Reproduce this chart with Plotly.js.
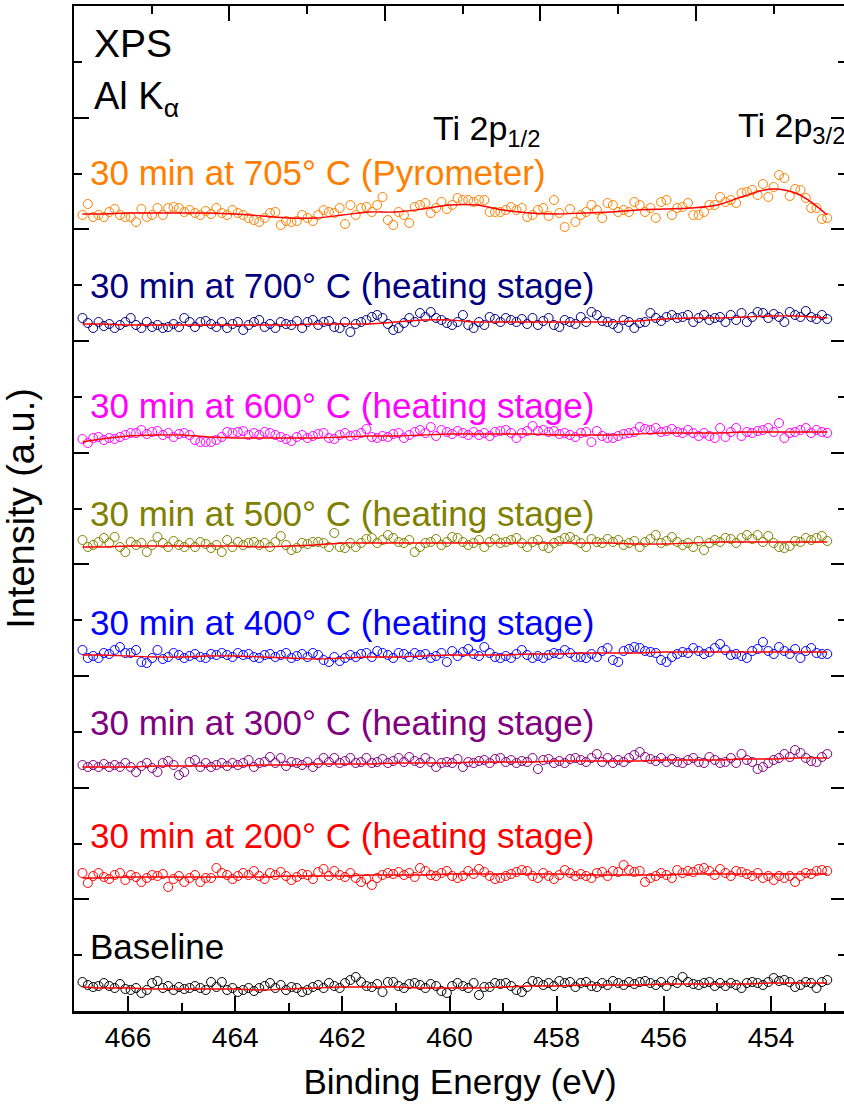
<!DOCTYPE html>
<html>
<head>
<meta charset="utf-8">
<script src="https://cdn.plot.ly/plotly-3.0.1.min.js"></script>
<style>
html,body{margin:0;padding:0;background:#fff;overflow:hidden;}
#chart{width:848px;height:1110px;}
</style>
</head>
<body>
<div id="chart"></div>
<script>
// Binding-energy grid of the spectra (eV): first point and step
const energyStart = 466.85;
const energyStep = -0.1;

// Measured spectra (a.u., already vertically offset for stacking)
const s705 = [796,807,794,796,794,799,802,796,794,794,789,802,794,796,803,796,803,804,803,799,801,798,796,800,797,803,798,796,801,798,796,793,791,789,793,798,799,786,790,789,790,796,793,790,796,801,799,798,803,787,806,796,803,804,799,806,814,791,786,799,
796,788,804,806,808,798,803,809,802,806,813,811,811,809,811,811,799,799,799,801,804,801,803,794,796,801,803,795,811,798,784,802,789,796,799,806,801,793,808,806,799,801,799,809,806,799,803,793,809,811,796,803,804,808,796,796,799,806,806,814,809,811,808,818,819,821,816,827,814,824,836,833,815,822,821,813,803,803,792,793];
const s700 = [693,688,683,689,685,687,683,686,689,693,686,683,689,684,686,683,684,687,684,693,689,684,689,690,687,684,689,683,687,689,681,686,689,691,684,687,683,689,687,686,690,683,689,691,686,689,690,684,683,689,679,687,689,691,694,696,693,687,681,683,688,693,689,698,694,699,693,691,688,686,689,696,686,683,689,686,694,692,689,693,691,689,692,687,693,686,690,693,686,684,691,689,687,694,689,699,696,690,689,687,683,691,689,683,688,689,698,693,690,694,696,693,694,696,689,693,696,691,693,694,689,696,691,698,689,694,699,698,693,697,694,689,699,696,694,700,694,692,696,692];
const s600 = [572,568,573,574,571,573,572,574,576,578,578,581,577,579,580,576,578,574,577,578,576,571,569,569,569,571,574,579,578,579,580,576,578,576,579,578,576,574,572,570,574,576,573,575,577,578,573,572,576,578,575,576,578,582,574,573,575,574,577,578,573,576,579,581,578,584,575,581,579,577,580,578,576,579,576,578,575,579,580,581,578,573,578,580,585,580,581,579,580,577,578,576,574,578,579,569,580,575,573,573,575,577,578,579,584,582,581,583,579,580,582,579,578,581,578,575,578,575,573,583,574,579,583,575,579,578,580,581,583,579,588,573,578,579,581,583,578,581,579,578];
const s500 = [471,464,466,469,473,468,474,464,459,469,466,468,459,466,474,468,464,470,466,464,468,464,469,467,463,466,459,471,464,469,466,468,469,466,468,464,469,475,466,461,463,468,467,469,469,468,464,478,464,463,468,464,468,472,473,468,471,476,473,469,468,471,459,464,468,469,472,466,469,474,473,469,466,468,471,464,469,472,468,469,471,473,468,464,469,471,465,463,468,470,473,474,471,468,464,472,469,468,472,469,471,466,468,470,464,469,472,476,468,470,474,469,466,468,464,470,461,468,471,469,473,472,468,473,476,472,476,469,475,468,464,463,465,470,469,473,471,473,475,470];
const s400 = [361,353,355,353,358,357,361,364,358,358,361,349,348,353,361,352,354,358,356,353,355,357,354,353,357,356,358,356,354,358,356,357,354,353,356,357,354,356,358,353,355,357,354,358,356,351,349,354,350,353,356,354,357,358,354,360,358,356,353,358,357,354,358,356,357,353,355,358,349,360,355,359,362,357,355,364,358,354,353,355,353,357,361,356,353,355,353,356,358,357,361,358,354,354,353,357,354,360,363,351,349,360,362,364,363,360,359,358,351,349,354,357,359,358,363,360,357,359,363,367,361,356,357,355,353,360,362,369,360,357,364,360,357,362,353,360,363,358,357,357];
const s300 = [246,244,246,244,247,244,246,244,248,244,239,245,248,243,239,248,250,246,236,239,249,251,244,248,244,246,248,245,248,246,248,251,244,248,249,254,248,253,245,249,248,246,249,244,248,253,249,253,248,250,253,248,249,253,248,249,252,248,250,253,249,254,250,248,253,249,244,248,249,248,252,244,249,248,250,251,248,252,253,249,251,248,250,249,253,242,251,252,248,250,248,252,253,251,249,253,257,249,253,248,251,249,253,256,259,254,252,250,253,249,252,249,248,251,253,249,248,254,251,248,249,253,248,257,251,249,242,244,248,251,253,257,254,261,258,253,250,249,254,257];
const s200 = [138,128,135,138,134,132,136,138,131,136,134,129,133,136,135,137,124,132,135,129,133,136,129,133,133,143,138,136,132,135,138,136,140,135,132,138,136,139,135,131,134,137,136,132,139,142,135,140,136,134,138,133,129,132,126,133,136,138,137,139,136,138,134,143,140,136,135,138,140,135,133,135,140,137,142,139,135,132,133,135,137,139,141,140,135,133,138,135,132,136,141,138,135,137,135,133,138,139,135,140,139,146,141,139,140,129,133,135,138,136,133,141,138,140,139,142,143,140,136,142,138,135,140,139,137,135,138,133,135,131,135,133,135,129,135,138,137,140,141,140];
const sBase = [29,26,24,25,28,25,23,27,22,21,23,18,21,28,30,23,25,21,24,22,23,25,23,21,29,24,29,21,23,19,21,23,20,23,25,28,23,26,21,24,23,19,21,24,26,23,28,25,23,28,31,34,29,25,24,27,19,29,29,25,23,27,28,26,23,27,25,20,18,25,28,25,23,28,16,24,24,28,27,28,25,21,19,24,30,29,26,28,25,30,28,29,24,28,29,25,24,28,26,30,28,26,29,27,29,30,28,26,29,25,30,28,34,29,27,26,28,29,25,28,25,28,26,23,28,29,28,26,29,33,30,31,29,24,26,29,28,23,29,31];

// Smoothed fit curves, sampled on a coarse energy grid
const fitEnergy = [466.85,466.5,466,465.5,465,464.5,464,463.5,463,462.5,462,461.5,461,460.5,460,459.5,459,458.5,458,457.5,457,456.5,456,455.5,455,454.5,454,453.5,452.95];
const f705 = [797,797,798,798,798,798,797,795,793,793,796,799,799,802,806,806,801,798,797,798,799,801,802,803,806,815,822,817,796];
const f700 = [687,687,686,686,686,686,686,686,686,687,687,687,689,691,691,689,689,689,689,689,689,690,692,693,693,694,695,695,693];
const f600 = [569,572,575,576,576,574,573,573,573,573,574,575,575,576,577,577,577,577,576,576,576,577,578,578,578,579,579,579,579];
const f500 = [464,464,465,465,465,465,465,464,465,466,468,468,468,468,468,468,468,468,468,468,468,467,467,468,469,469,469,469,469];
const f400 = [356,356,355,354,354,355,355,354,353,352,353,354,354,355,356,356,356,357,357,358,358,358,359,359,359,359,359,359,359];
const f300 = [244,244,244,245,245,245,245,246,246,247,247,247,248,248,248,249,249,249,250,250,250,250,251,251,251,252,252,253,253];
const f200 = [133,133,134,134,134,134,134,134,135,135,135,136,136,136,137,137,137,137,137,136,136,136,136,137,137,137,137,137,137];
const fBase = [24,23,23,22,22,22,22,21,22,23,24,24,24,23,23,23,24,25,25,26,26,26,27,27,27,27,28,28,28];

const seriesLabels = ["30 min at 705° C (Pyrometer)","30 min at 700° C (heating stage)","30 min at 600° C (heating stage)","30 min at 500° C (heating stage)","30 min at 400° C (heating stage)","30 min at 300° C (heating stage)","30 min at 200° C (heating stage)","Baseline"];
const seriesColors = ["#ff8000","#000080","#ff00ff","#808000","#0000ff","#800080","#ff0000","#000000"];
const seriesData = [s705,s700,s600,s500,s400,s300,s200,sBase];
const seriesFits = [f705,f700,f600,f500,f400,f300,f200,fBase];
const labelY = [173,286,405,513,623,723,835,946]; // label positions (px from top of figure)

const FONT = "Liberation Sans, Arial, Helvetica, sans-serif";
const plotTop = 6, plotBottom = 1011, plotLeft = 74, plotRight = 846;
const pyToPaper = py => (plotBottom - py) / (plotBottom - plotTop);
const pxToPaper = px => (px - plotLeft) / (plotRight - plotLeft);

const traces = [];
seriesData.forEach((d, i) => {
  traces.push({
    type: 'scatter', mode: 'markers', x0: energyStart, dx: energyStep, y: d,
    marker: {symbol: 'circle-open', size: 9, color: seriesColors[i], line: {width: 1, color: seriesColors[i]}},
    showlegend: false, hoverinfo: 'skip'
  });
});
seriesFits.forEach((f) => {
  traces.push({
    type: 'scatter', mode: 'lines', x: fitEnergy, y: f,
    line: {color: '#ff0000', width: 1.4, shape: 'spline', smoothing: 1},
    showlegend: false, hoverinfo: 'skip'
  });
});
// empty trace to carry the top axis
traces.push({type: 'scatter', x: [], y: [], xaxis: 'x2', yaxis: 'y', showlegend: false});

const annotations = [];
seriesLabels.forEach((t, i) => {
  annotations.push({
    xref: 'paper', yref: 'paper', x: pxToPaper(88), y: pyToPaper(labelY[i]),
    xanchor: 'left', yanchor: 'middle', showarrow: false, text: t,
    font: {family: FONT, size: 35, color: seriesColors[i]}
  });
});
annotations.push({xref:'paper',yref:'paper',x:pxToPaper(92),y:pyToPaper(43),xanchor:'left',yanchor:'middle',showarrow:false,text:'XPS',font:{family:FONT,size:39,color:'#000'}});
annotations.push({xref:'paper',yref:'paper',x:pxToPaper(92),y:pyToPaper(99),xanchor:'left',yanchor:'middle',showarrow:false,text:'Al K<sub>α</sub>',font:{family:FONT,size:38,color:'#000'}});
annotations.push({xref:'paper',yref:'paper',x:pxToPaper(431),y:pyToPaper(130),xanchor:'left',yanchor:'middle',showarrow:false,text:'Ti 2p<sub>1/2</sub>',font:{family:FONT,size:34,color:'#000'}});
annotations.push({xref:'paper',yref:'paper',x:pxToPaper(736),y:pyToPaper(128),xanchor:'left',yanchor:'middle',showarrow:false,text:'Ti 2p<sub>3/2</sub>',font:{family:FONT,size:34,color:'#000'}});

const layout = {
  width: 848, height: 1110,
  margin: {l: plotLeft, r: 848 - plotRight, t: plotTop, b: 1110 - plotBottom},
  paper_bgcolor: '#fff', plot_bgcolor: '#fff',
  font: {family: FONT, color: '#000'},
  showlegend: false,
  xaxis: {
    range: [467.008, 452.6], showgrid: false, zeroline: false,
    showline: true, linewidth: 2.5, linecolor: '#000', mirror: false,
    ticks: 'inside', ticklen: 15, tickwidth: 2, tickcolor: '#000',
    tick0: 0, dtick: 2, tickfont: {family: FONT, size: 28, color: '#000'},
    ticklabelstandoff: 0,
    minor: {dtick: 1, ticks: 'inside', ticklen: 8, tickwidth: 2, tickcolor: '#000', showgrid: false},
    title: {text: 'Binding Energy (eV)', font: {family: FONT, size: 35, color: '#000'}, standoff: 18},
    automargin: false
  },
  xaxis2: {
    overlaying: 'x', side: 'top', anchor: 'y', range: [0, 4.965],
    showgrid: false, zeroline: false, showline: true, linewidth: 2.5, linecolor: '#000',
    ticks: 'inside', ticklen: 15, tickwidth: 2, tickcolor: '#000', tick0: 0, dtick: 1,
    showticklabels: false,
    minor: {dtick: 0.5, ticks: 'inside', ticklen: 8, tickwidth: 2, tickcolor: '#000', showgrid: false}
  },
  yaxis: {
    range: [0, 1005], showgrid: false, zeroline: false,
    showline: true, linewidth: 2.5, linecolor: '#000', mirror: 'ticks',
    ticks: 'inside', ticklen: 15, tickwidth: 2, tickcolor: '#000',
    tick0: 0, dtick: 1005 / 9, showticklabels: false,
    minor: {dtick: 1005 / 18, ticks: 'inside', ticklen: 8, tickwidth: 2, tickcolor: '#000', showgrid: false},
    title: {text: 'Intensity (a.u.)', font: {family: FONT, size: 38, color: '#000'}, standoff: 28},
    automargin: false
  },
  annotations: annotations
};

Plotly.newPlot('chart', traces, layout, {staticPlot: true, displayModeBar: false});
</script>
</body>
</html>
